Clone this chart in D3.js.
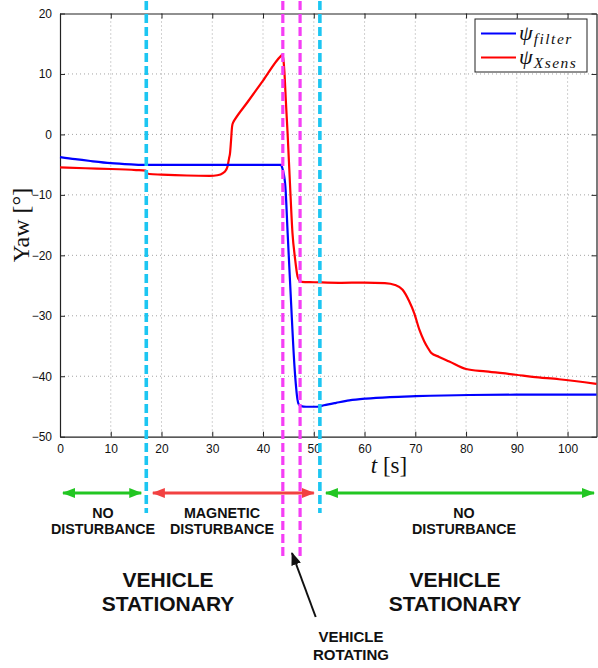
<!DOCTYPE html>
<html>
<head>
<meta charset="utf-8">
<script src="https://cdn.jsdelivr.net/npm/d3@7"></script>
<style>
  html, body { margin: 0; padding: 0; background: #fff; }
  svg { display: block; }
</style>
</head>
<body>
<svg id="chart" width="598" height="668"></svg>
<script>
// Yaw estimate of the filter versus the Xsens reference (degrees over time)
const tFilter   = [0, 3, 6, 10, 14, 17, 25, 35, 43.5, 43.9, 44.4, 44.85, 45.5, 46.2, 46.8, 47.0, 47.5, 48.5, 50.7, 52, 54.4, 57, 60.3, 65, 70.1, 80.6, 90, 100, 105.7];
const yawFilter = [-3.75, -4.1, -4.4, -4.75, -4.95, -5.05, -5.05, -5.05, -5.05, -5.9, -8.6, -16.3, -27.4, -38.4, -43.9, -44.6, -44.95, -45.05, -45.05, -44.8, -44.4, -44.0, -43.7, -43.45, -43.3, -43.1, -43.05, -43.05, -43.05];

const tXsens   = [0, 5, 10, 15, 16.9, 17.2, 17.6, 20, 25, 29.5, 31, 32.1, 32.7, 33.0, 33.3, 33.5, 33.7, 33.9, 34.15, 34.4, 37, 40, 43.5, 43.7, 43.95, 44.2, 44.5, 44.85, 45.3, 45.8, 46.3, 46.8, 47.2, 47.6, 50, 55, 60, 64, 66, 67.5, 68.8, 69.8, 70.8, 71.75, 72.4, 73.1, 74.7, 76.7, 80, 83.9, 89.8, 93.1, 98.3, 105.7];
const yawXsens = [-5.45, -5.6, -5.72, -5.9, -6.0, -6.45, -6.55, -6.65, -6.8, -6.85, -6.75, -6.4, -5.9, -5.3, -4.0, -3.1, -1.0, 1.3, 2.05, 2.4, 5.4, 8.9, 12.95, 13.1, 12.7, 10.5, 5.5, 0.0, -8.0, -16.3, -20.5, -23.5, -24.2, -24.4, -24.45, -24.55, -24.5, -24.6, -24.9, -25.7, -27.6, -29.6, -32.3, -34.2, -35.2, -36.1, -36.8, -37.55, -38.8, -39.2, -39.75, -40.1, -40.5, -41.25];

const xTicks = [0, 10, 20, 30, 40, 50, 60, 70, 80, 90, 100];
const yTicks = [-50, -40, -30, -20, -10, 0, 10, 20];
const xDomain = [0, 105.7];
const yDomain = [-50, 20];

// Phase boundaries (s): start/end of the magnetic disturbance, start/end of the rotation
const disturbanceBounds = [17.0, 51.2];
const rotationBounds = [43.9, 47.3];
// Extent of the annotated phases (s)
const phaseSpans = [[0.2, 16.4], [17.9, 50.4], [52.0, 105.6]];
const phaseLabels = [["NO", "DISTURBANCE"], ["MAGNETIC", "DISTURBANCE"], ["NO", "DISTURBANCE"]];

const svg = d3.select("#chart");
const W = 598, H = 668;
const L = 60, R = 596.5, T = 13.5, B = 436.7;

const x = d3.scaleLinear().domain(xDomain).range([L, R]);
const y = d3.scaleLinear().domain(yDomain).range([B, T]);

svg.append("rect").attr("width", W).attr("height", H).attr("fill", "#fff");

// dotted grid
const grid = svg.append("g").attr("stroke", "#9a9a9a").attr("stroke-width", 0.9).attr("stroke-dasharray", "1,3");
grid.selectAll("line.gx").data(xTicks.filter(d => d > xDomain[0])).join("line")
  .attr("x1", d => x(d)).attr("x2", d => x(d)).attr("y1", T).attr("y2", B);
grid.selectAll("line.gy").data(yTicks.filter(d => d > yDomain[0] && d < yDomain[1])).join("line")
  .attr("y1", d => y(d)).attr("y2", d => y(d)).attr("x1", L).attr("x2", R);

// axes with inward ticks on all four sides
const fmt = d3.format("d");
const axB = svg.append("g").attr("transform", `translate(0,${B})`)
  .call(d3.axisBottom(x).tickValues(xTicks).tickSizeInner(-5).tickSizeOuter(0).tickPadding(8).tickFormat(fmt));
const axT = svg.append("g").attr("transform", `translate(0,${T})`)
  .call(d3.axisTop(x).tickValues(xTicks).tickSizeInner(-5).tickSizeOuter(0).tickFormat(""));
const axL = svg.append("g").attr("transform", `translate(${L},0)`)
  .call(d3.axisLeft(y).tickValues(yTicks).tickSizeInner(-5).tickSizeOuter(0).tickPadding(8).tickFormat(fmt));
const axR = svg.append("g").attr("transform", `translate(${R},0)`)
  .call(d3.axisRight(y).tickValues(yTicks).tickSizeInner(-5).tickSizeOuter(0).tickFormat(""));
[axB, axT, axL, axR].forEach(a => {
  a.select(".domain").attr("stroke", "#222").attr("stroke-width", 1.2);
  a.selectAll(".tick line").attr("stroke", "#222");
  a.selectAll("text").attr("font-family", "'Liberation Sans', Arial, sans-serif")
    .attr("font-size", 12).attr("fill", "#111");
});

// curves
const line = d3.line().x(d => x(d[0])).y(d => y(d[1])).curve(d3.curveMonotoneX);
svg.append("path").datum(tXsens.map((t, i) => [t, yawXsens[i]]))
  .attr("d", line).attr("fill", "none").attr("stroke", "#ff0000").attr("stroke-width", 2.2);
svg.append("path").datum(tFilter.map((t, i) => [t, yawFilter[i]]))
  .attr("d", line).attr("fill", "none").attr("stroke", "#0000ff").attr("stroke-width", 2.2);

// axis labels
svg.append("text").attr("transform", `translate(29,${(T + B) / 2}) rotate(-90)`)
  .attr("text-anchor", "middle").attr("font-family", "'Liberation Serif', 'Times New Roman', serif")
  .attr("font-size", 24).attr("fill", "#111").text("Yaw [°]");
const xl = svg.append("text").attr("x", 389).attr("y", 473).attr("text-anchor", "middle")
  .attr("font-family", "'Liberation Serif', 'Times New Roman', serif").attr("font-size", 23).attr("fill", "#111");
xl.append("tspan").attr("font-style", "italic").text("t");
xl.append("tspan").text(" [s]");

// legend
const lg = svg.append("g");
lg.append("rect").attr("x", 475).attr("y", 19).attr("width", 112).attr("height", 53)
  .attr("fill", "#fff").attr("stroke", "#222").attr("stroke-width", 1);
const legendItems = [["filter", "#0000ff"], ["Xsens", "#ff0000"]];
legendItems.forEach(([sub, col], i) => {
  const cy = 33.5 + i * 24;
  lg.append("line").attr("x1", 481).attr("x2", 516).attr("y1", cy).attr("y2", cy)
    .attr("stroke", col).attr("stroke-width", 2.2);
  const tx = lg.append("text").attr("x", 519).attr("y", cy + 6)
    .attr("font-family", "'Liberation Serif', 'Times New Roman', serif").attr("fill", "#111");
  tx.append("tspan").attr("font-size", 22).attr("font-style", "italic").text("ψ");
  tx.append("tspan").attr("font-size", 15.5).attr("font-style", "italic").attr("dy", 4)
    .attr("letter-spacing", 1.5).attr("dx", 1).text(sub);
});

// phase arrows
const defs = svg.append("defs");
function marker(id, col) {
  defs.append("marker").attr("id", id).attr("viewBox", "0 0 13 10").attr("refX", 12).attr("refY", 5)
    .attr("markerUnits", "userSpaceOnUse").attr("markerWidth", 13).attr("markerHeight", 10)
    .attr("orient", "auto-start-reverse")
    .append("path").attr("d", "M0,0 L13,5 L0,10 Z").attr("fill", col);
}
marker("mg", "#22c622");
marker("mr", "#f24141");
marker("mk", "#111");
const arrowCols = ["#22c622", "#f24141", "#22c622"];
const arrowMk = ["mg", "mr", "mg"];
const arrowY = 493;
phaseSpans.forEach((s, i) => {
  svg.append("line").attr("x1", x(s[0]) + 2).attr("x2", x(s[1]) - 2).attr("y1", arrowY).attr("y2", arrowY)
    .attr("stroke", arrowCols[i]).attr("stroke-width", 3)
    .attr("marker-start", `url(#${arrowMk[i]})`).attr("marker-end", `url(#${arrowMk[i]})`);
});

// phase captions
const sans = "'Liberation Sans', Arial, sans-serif";
phaseLabels.forEach((lab, i) => {
  const cx = i === 0 ? 103 : (i === 1 ? 222 : 464);
  lab.forEach((s, j) => {
    svg.append("text").attr("x", cx).attr("y", 517.5 + j * 16.5).attr("text-anchor", "middle")
      .attr("font-family", sans).attr("font-weight", "bold").attr("font-size", 14.3)
      .attr("fill", "#111").text(s);
  });
});
[[168, ["VEHICLE", "STATIONARY"]], [455, ["VEHICLE", "STATIONARY"]]].forEach(([cx, lines]) => {
  lines.forEach((s, j) => {
    svg.append("text").attr("x", cx).attr("y", 586.5 + j * 24).attr("text-anchor", "middle")
      .attr("font-family", sans).attr("font-weight", "bold").attr("font-size", 21)
      .attr("fill", "#111").text(s);
  });
});
["VEHICLE", "ROTATING"].forEach((s, j) => {
  svg.append("text").attr("x", 351).attr("y", 641.5 + j * 18).attr("text-anchor", "middle")
    .attr("font-family", sans).attr("font-weight", "bold").attr("font-size", 15)
    .attr("fill", "#111").text(s);
});
// pointer to the rotation window
svg.append("line").attr("x1", 315.7).attr("y1", 617).attr("x2", 292).attr("y2", 553)
  .attr("stroke", "#111").attr("stroke-width", 2).attr("marker-end", "url(#mk)");

// phase boundaries (dashed)
const vb = svg.append("g");
disturbanceBounds.forEach(t => {
  vb.append("line").attr("x1", x(t)).attr("x2", x(t)).attr("y1", 1).attr("y2", 513)
    .attr("stroke", "#1cc6f2").attr("stroke-width", 3.6).attr("stroke-dasharray", "9,4");
});
rotationBounds.forEach(t => {
  vb.append("line").attr("x1", x(t)).attr("x2", x(t)).attr("y1", 1).attr("y2", 558)
    .attr("stroke", "#f53ef5").attr("stroke-width", 3.2).attr("stroke-dasharray", "9,4");
});
</script>
</body>
</html>
